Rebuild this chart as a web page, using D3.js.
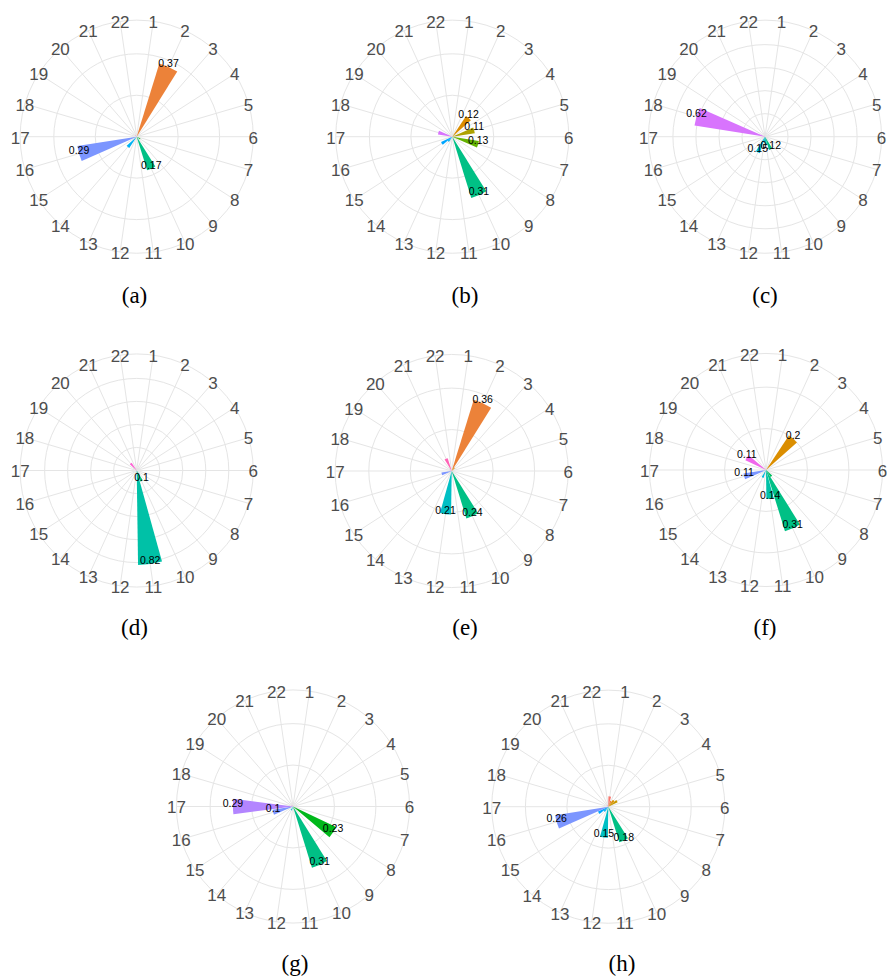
<!DOCTYPE html>
<html>
<head>
<meta charset="utf-8">
<script src="https://cdn.jsdelivr.net/npm/d3@7"></script>
<style>
  html, body { margin: 0; padding: 0; background: #ffffff; }
  svg { display: block; }
</style>
</head>
<body>
<svg id="chart" width="887" height="979"></svg>
<script>
// ---- data -------------------------------------------------------------
const categories = d3.range(1, 23).map(String);   // "1" .. "22"
const panelNames = ["(a)", "(b)", "(c)", "(d)", "(e)", "(f)", "(g)", "(h)"];

//                 1     2     3     4     5  6     7     8     9    10    11    12    13     14    15    16    17    18    19    20    21 22
const valuesA = [0,    0.37, 0,    0,    0,    0, 0,    0.02, 0,    0.17, 0,    0,    0,    0.065, 0,    0.29, 0,    0,    0,    0.01, 0,    0];
const valuesB = [0,    0,    0.12, 0,    0.11, 0, 0.13, 0,    0,    0.31, 0,    0,    0,    0.03,  0.06, 0,    0,    0.07, 0,    0,    0,    0];
const valuesC = [0,    0,    0,    0,    0,    0, 0,    0,    0,    0.12, 0.07, 0.05, 0.15, 0,     0,    0,    0,    0.62, 0,    0.01, 0,    0];
const valuesD = [0,    0,    0,    0,    0,    0, 0,    0,    0,    0.1,  0.82, 0,    0,    0,     0,    0,    0,    0,    0.01, 0.08, 0,    0];
const valuesE = [0,    0.36, 0.02, 0,    0,    0, 0,    0,    0,    0.24, 0,    0.21, 0,    0,     0,    0.05, 0,    0,    0.01, 0,    0.065, 0];
const valuesF = [0,    0,    0.2,  0,    0,    0, 0,    0,    0.04, 0.31, 0.14, 0,    0.04, 0,     0,    0.11, 0,    0,    0.11, 0.01, 0,    0];
const valuesG = [0,    0,    0,    0,    0,    0, 0,    0.23, 0,    0.31, 0,    0,    0.02, 0,     0,    0.1,  0.29, 0,    0,    0.01, 0,    0];
const valuesH = [0.05, 0.03, 0.04, 0.05, 0,    0, 0,    0,    0,    0.18, 0,    0.15, 0,    0.03,  0.055, 0.26, 0,   0,    0,    0.01, 0,    0];

const panelValues = [valuesA, valuesB, valuesC, valuesD, valuesE, valuesF, valuesG, valuesH];
const radialMax   = [0.5, 0.5, 0.9, 0.9, 0.5, 0.5, 0.5, 0.5];
const radialBreaks = [0.2, 0.4, 0.6, 0.8];
const labelThreshold = 0.1;

// ---- layout -----------------------------------------------------------
const panelCentres = [
  [136.7, 136.7], [452.3, 136.7], [765.0, 136.7],
  [136.7, 470.5], [451.7, 471.0], [766.0, 470.0],
  [293.0, 806.5], [608.3, 806.7]
];
const captionSpots = [
  [134.5, 303], [465, 303], [765, 303],
  [134.5, 635], [465, 635], [765, 635],
  [295, 971], [622, 971]
];
const panelSize = 259;                  // polar panel extent in px
const barOuter  = 0.40 * panelSize;     // radius reached by the radial maximum
const gridOuter = 0.45 * panelSize;     // outer ring, spokes and angle labels

// ---- colours: evenly spaced hues in polar CIE-LUV (c = 100, l = 65) ----
function hclToHex(h, c, l) {
  const WHITE_Y = 100, WHITE_u = 0.1978398, WHITE_v = 0.4683363;
  const hr = h * Math.PI / 180;
  const U = c * Math.cos(hr), V = c * Math.sin(hr);
  const Y = WHITE_Y * (l > 7.999592 ? Math.pow((l + 16) / 116, 3) : l / 903.3);
  const u = U / (13 * l) + WHITE_u;
  const v = V / (13 * l) + WHITE_v;
  const X = 9 * Y * u / (4 * v);
  const Z = -X / 3 - 5 * Y + 3 * Y / v;
  const gam = t => t > 0.00304 ? 1.055 * Math.pow(t, 1 / 2.4) - 0.055 : 12.92 * t;
  const ch = t => Math.round(255 * Math.max(0, Math.min(1, gam(t / WHITE_Y))));
  const r = ch( 3.240479 * X - 1.537150 * Y - 0.498535 * Z);
  const g = ch(-0.969256 * X + 1.875992 * Y + 0.041556 * Z);
  const b = ch( 0.055648 * X - 0.204043 * Y + 1.057311 * Z);
  return d3.rgb(r, g, b).formatHex();
}
const hueStep = (358.6363636 - 15) / (categories.length - 1);
const colour = d3.scaleOrdinal()
  .domain(categories)
  .range(categories.map((c, i) => hclToHex(15 + i * hueStep, 100, 65)));

// ---- drawing ----------------------------------------------------------
const svg = d3.select("#chart");

const theta = d3.scaleBand()
  .domain(categories)
  .range([0, 2 * Math.PI])
  .paddingInner(0.1)
  .paddingOuter(0.05);

const thetaMid = c => theta(c) + theta.bandwidth() / 2;

panelValues.forEach((vals, p) => {
  const [cx, cy] = panelCentres[p];
  const g = svg.append("g").attr("transform", `translate(${cx},${cy})`);

  const r = d3.scaleLinear().domain([0, radialMax[p]]).range([0, barOuter]);

  // grid: rings at radial breaks plus the outer ring
  const rings = radialBreaks.filter(b => b <= radialMax[p]).map(b => r(b)).concat([gridOuter]);
  g.append("g").selectAll("circle")
    .data(rings)
    .join("circle")
    .attr("r", d => d)
    .attr("fill", "none")
    .attr("stroke", "#e5e5e5")
    .attr("stroke-width", 1);

  // grid: one spoke per category
  g.append("g").selectAll("line")
    .data(categories)
    .join("line")
    .attr("x1", 0).attr("y1", 0)
    .attr("x2", c => gridOuter * Math.sin(thetaMid(c)))
    .attr("y2", c => -gridOuter * Math.cos(thetaMid(c)))
    .attr("stroke", "#e5e5e5")
    .attr("stroke-width", 1);

  const rows = categories.map((c, i) => ({ cat: c, value: vals[i] })).filter(d => d.value > 0);

  // bars
  const arc = d3.arc()
    .innerRadius(0)
    .outerRadius(d => r(d.value))
    .startAngle(d => theta(d.cat))
    .endAngle(d => theta(d.cat) + theta.bandwidth());

  g.append("g").selectAll("path")
    .data(rows)
    .join("path")
    .attr("d", arc)
    .attr("fill", d => colour(d.cat));

  // category labels around the rim
  g.append("g").selectAll("text")
    .data(categories)
    .join("text")
    .attr("x", c => gridOuter * Math.sin(thetaMid(c)))
    .attr("y", c => -gridOuter * Math.cos(thetaMid(c)) + 1.3)
    .attr("text-anchor", "middle")
    .attr("dominant-baseline", "central")
    .attr("font-family", "'Liberation Sans', Arial, Helvetica, sans-serif")
    .attr("font-size", 17)
    .attr("fill", "#4d4d4d")
    .text(c => c);

  // value labels at bar tips
  g.append("g").selectAll("text")
    .data(rows.filter(d => d.value >= labelThreshold))
    .join("text")
    .attr("x", d => r(d.value) * Math.sin(thetaMid(d.cat)))
    .attr("y", d => -r(d.value) * Math.cos(thetaMid(d.cat)))
    .attr("text-anchor", "middle")
    .attr("font-family", "'Liberation Sans', Arial, Helvetica, sans-serif")
    .attr("font-size", 10.5)
    .attr("fill", "#000000")
    .text(d => String(d.value));

  // sub-figure caption
  svg.append("text")
    .attr("x", captionSpots[p][0])
    .attr("y", captionSpots[p][1])
    .attr("text-anchor", "middle")
    .attr("font-family", "'Liberation Serif', 'Times New Roman', serif")
    .attr("font-size", 23)
    .attr("fill", "#000000")
    .text(panelNames[p]);
});
</script>
</body>
</html>
